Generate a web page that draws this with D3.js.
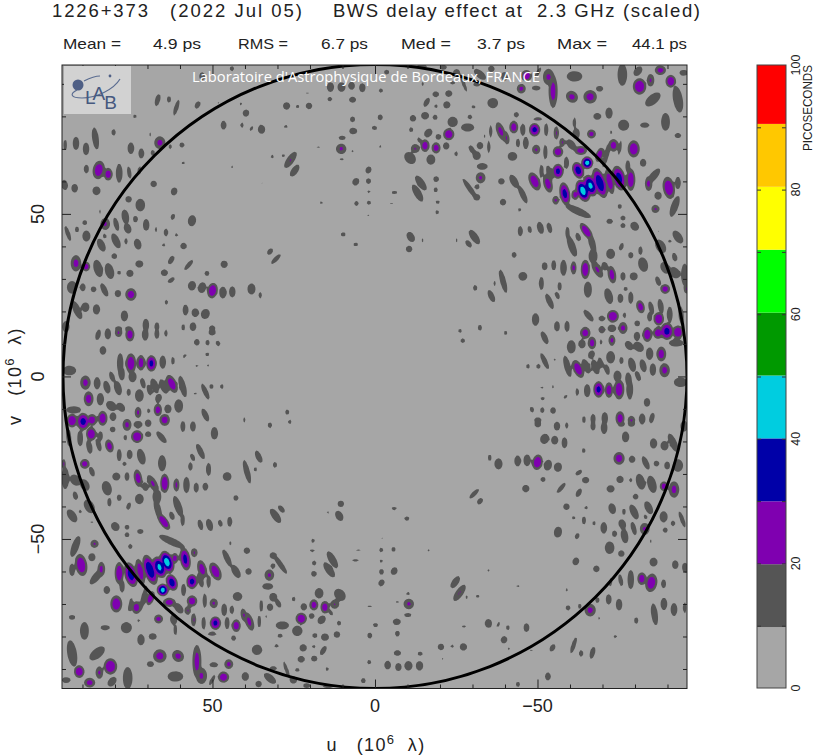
<!DOCTYPE html>
<html><head><meta charset="utf-8">
<script src="https://cdn.jsdelivr.net/npm/d3@7"></script>
<style>html,body{margin:0;padding:0;background:#fff}svg{display:block}text{white-space:pre}</style>
</head><body><svg id="c" width="815" height="756"></svg>
<script>
// Each lobe: [u, v, peak delay (ps), half-extent along axis, half-extent across axis, tilt deg] in 10^6 lambda.
// The map is Hermitian, so each lobe also exists at (-u,-v).
const lobesTopEdge = [[66.9,85,15,1.7,.7,15],[63.4,85.2,15,.9,.6,0],[61.1,82.7,15,2.3,.6,18],[54.6,83.5,15,1.1,.7,30],[73.9,80,15,.5,.5,0],[46.6,77.3,15,1.2,.8,0],[39.7,81,15,1,.9,20],[40.9,77.3,15,.7,.5,0],[41.2,83.8,15,.4,.4,0],[44,94.7,15,.7,.6,0],[38,76.3,15,.8,.4,30],[35.3,76.3,15,1,.4,0],[48.1,84.3,15,.3,.4,0],[53.2,92.3,15,1.1,.8,0]];
const lobesUpperLeft = [[86,73.2,15,3,.9,-8],[80.4,75.1,15,.9,.6,0],[92,71.7,15,1.8,.9,0],[88.9,70,15,1.7,.9,0],[95.3,71.2,15,1.5,.5,0],[75.1,70.2,15,1.6,.9,0],[71.9,68.6,15,1.4,.8,0],[66.2,71.9,22,1.7,1.5,0],[68.4,68.8,15,.8,.6,0],[63,70.7,15,.7,.5,0],[59.4,71.2,15,.7,.7,0],[59,65.7,15,.5,.4,0],[44,64.5,15,.4,.4,0],[35,59.7,15,.4,.3,0],[69.1,74.4,15,.6,.3,0],[88.8,63.8,15,1.2,.7,0],[85,63.5,26,2.5,1.6,10],[82.1,62.2,25,1.7,1.2,0],[78.7,62.5,15,2.6,.9,0],[75.6,62.7,15,1.7,.6,-10],[72.5,63.3,15,1.2,.5,10],[95.5,58.9,15,1.4,.9,-10],[92.4,57.9,15,1.2,.9,0],[85.7,57.1,15,1.2,1.1,0],[68.1,59.2,15,.9,.9,0],[61.8,56.9,15,1.1,.9,20],[75.8,54.5,15,.9,.9,0],[72.2,52.7,15,1.7,1.3,0],[84.7,50.7,15,.6,.3,0],[76.8,49.1,15,2,1,-10],[76.1,45.5,15,1.4,1,-20],[79.6,46.8,15,1.9,.7,-15],[83,46.9,21,1.6,1.3,0],[89.3,47.3,15,.7,.7,0],[91.7,45.2,15,.8,.6,0],[94.5,44,15,2.3,.6,-20],[88.8,43.2,15,1.5,1.1,0],[83.2,43.2,15,.7,.5,-20],[84.2,40.4,15,1.9,1,-25],[79.7,41.7,15,2.2,1,-25],[76.6,41.6,15,.9,.5,0],[73,40.7,15,1.5,1,-15],[70.4,46.6,15,1.6,.9,0],[73.7,48.4,15,.9,.7,0],[67.4,45.2,15,.7,.4,0],[64.3,44.3,15,1.1,.6,0],[61.1,43.5,15,.5,.5,0],[62.2,49.1,15,.9,.6,20],[56.3,47.9,15,1.5,1.1,10],[65,40.4,15,.5,.5,0],[58.9,40.1,15,.9,.9,0],[80.2,37,15,.8,.8,0],[92,34.8,22,2.2,1.4,0],[88.9,33.8,25,1.3,1.1,0],[85.2,33.2,15,2.4,1.2,-15],[81.7,32.4,15,2.2,1.2,-15],[78.7,31.9,15,.6,.5,0],[75.4,31.7,15,1,1,0],[72.5,34.6,15,1,1.1,0],[62.7,35.8,15,1.3,.7,30],[57.3,34.3,15,1.8,.6,40],[46.4,34.5,15,1,1,0],[64.8,31.9,15,.9,1,0],[62.7,29.6,15,1.1,.6,55],[51.7,31.7,15,.7,.7,0],[93.2,27.4,15,1.7,1.4,0],[89.9,27.4,15,1.1,.8,0],[86.6,26.8,15,.8,.8,0],[83.3,26.6,15,2,.8,-25],[79.1,25.5,15,1,.9,0],[75.1,25.2,24,1.7,1.5,0],[56.3,27.9,15,1.3,1.1,10],[53.2,27.3,15,1.5,1.1,15],[50,26.4,28,2.1,1.4,10],[46.8,25.8,15,1.6,1,0],[43.9,26,15,1.5,.9,0],[38,26.9,15,1.5,1.1,0],[35.3,25,15,.9,.5,0],[91.7,20.4,15,2.7,1,-25],[89.1,21.3,15,1.3,1.1,0],[85.7,20.6,15,1.4,1,0],[77.1,18.6,15,1.5,1,0],[58.3,20.4,15,1.5,.8,0],[55.3,19.6,15,1.2,1,0],[52.2,19.2,15,1.4,1.2,20],[64.2,22.8,15,.7,.5,0],[95.1,15.3,15,1.5,1,0],[70.5,15.8,15,1.7,.9,0],[67.1,15.3,15,1.2,.7,0],[59,15.1,15,.9,.5,0],[56,15.3,15,1.2,.9,0],[50.1,14.8,15,.8,.9,0],[78.9,14.7,15,.7,1,0],[75.8,14.7,15,.7,1,0]];
const lobesMiddleLeft = [[85.2,12.8,15,1.5,.7,15],[82.2,13.1,15,1.5,.9,0],[78.9,13.5,21,1.2,1,0],[75.4,12.9,25,1.9,1.2,0],[70.7,12.9,15,1.7,.9,0],[67.1,13.1,15,1.4,.7,0],[64.3,13.3,15,1,.5,0],[54.8,10.5,15,.9,.8,0],[51.5,10.4,15,.8,.6,0],[48.3,10.2,15,.8,.6,-20],[50.1,13.5,15,.8,1,0],[83.7,8,15,1.2,.9,0],[51.6,6.8,15,.5,.6,0],[58.6,6.3,15,.7,.4,45],[78.4,4,15,2.8,.9,0],[75.1,4,26,2.7,1.4,0],[72,4.2,25,2.1,1.1,0],[68.8,4,33,2.2,1.4,0],[65.3,4.4,15,1.8,.9,0],[62.2,4.8,15,1.1,.5,0],[54.8,3.2,15,.4,.4,0],[51.4,3.4,15,.4,.4,0],[94,1.8,15,1.3,1.8,0],[80.9,-.1,15,1.5,.7,-20],[78,1,15,2,.9,-5],[74.6,-.1,15,1.5,1.1,0],[89.1,-1.9,22,1.9,1.4,0],[85.5,-2.1,15,1.7,.9,0],[82.5,-3.3,15,1.8,.9,-15],[79.1,-3.6,15,2,1,-15],[75.8,-4.9,15,1,.6,0],[72.5,-5.9,15,1.7,1.2,0],[71.4,-2.1,15,1.5,.7,-15],[69.4,-4.2,15,1.5,.7,-15],[67.8,-2.9,15,2.1,1,-20],[65,-3.1,15,2.1,1,-25],[62.5,-2.3,26,2.6,1.3,-25],[59.2,-3.1,15,3,.9,-15],[52.2,-4.7,15,2.4,.7,-25],[55.3,-5.2,15,.4,.4,0],[50.3,-3.1,15,.7,.6,0],[47.1,-3.1,15,.7,.5,0],[88.1,-6.9,24,2,1.3,0],[84.5,-7,15,1.7,1,0],[81.1,-9.1,15,1.6,1.2,-50],[78.2,-9.5,15,1.4,1,-40],[92.7,-10.3,15,1,2,0],[66.6,-6.7,15,1.2,.9,20],[63.7,-10,15,1.2,1,0],[60.4,-9.1,15,1.8,1.2,0],[72.9,-11.1,22,1.5,.9,0],[69.6,-10.6,21,.7,.4,0],[66.8,-10.3,24,1.7,1.1,0],[52.2,-11.9,15,1.9,.8,-25],[40.2,-13.4,15,.7,.4,0],[93.2,-13.6,28,1.8,1.5,0],[89.8,-13.9,33,2.3,1.8,0],[87.1,-13.4,25,1.6,1.4,0],[83.8,-12.9,26,2,1.3,0],[80.6,-12.4,15,1.2,.9,0],[76.3,-14.9,22,1.6,1.2,0],[72.9,-14.8,15,1,1.2,0],[69.8,-14.4,20.5,1,.9,0],[64.7,-13.4,24,1.6,1.4,0],[59.1,-15.4,15,1.5,.7,0],[56,-15.4,15,1.4,.8,0],[80.7,-16.3,15,.8,.8,0],[94.2,-18.8,15,2.5,.7,-5],[90.7,-19,15,2.2,.8,0],[87.3,-17.7,28,1.8,1.4,0],[87.9,-21.6,15,2,.8,-10],[84.5,-18.3,15,1.3,.7,0],[76.8,-18.8,15,.8,.5,0],[73.2,-18.5,28,1.7,1.6,0],[69.8,-17.8,15,.8,.9,0],[65.7,-18.7,15,2,.8,-40],[49.4,-17.5,15,1.7,1,0],[85,-21.1,15,1.8,.7,-15],[81.7,-21.4,24,1.8,1.1,-15],[78.7,-24.2,15,1.7,.7,0],[75.5,-24,15,1.3,.8,0],[71.9,-24.7,15,2.2,1.1,-15],[56.1,-24.9,15,1.1,.6,-25],[53.7,-23.1,15,2.3,.8,-25],[65.5,-26.7,15,2.2,1.1,0],[77.1,-26.9,15,.6,.6,0],[95.8,-26.9,22,1.3,.6,0],[89.3,-26.9,24,1.3,1.3,0],[87.1,-29.3,15,1.4,.7,-20],[56.8,-27.7,15,1.2,.6,0],[51.2,-28.6,15,1.8,.7,0],[35.8,-24.7,15,1.8,.8,-25],[39.4,-29.3,15,3.3,.8,-15],[36.8,-28.6,15,.7,.4,0],[45.5,-30.8,15,1.2,1.2,0],[95.3,-31.3,15,3,1,0],[92.2,-31.9,15,1.7,1.3,-45],[89.3,-33.4,15,1.7,1.2,-30],[79.6,-30.8,15,1.1,1.1,0],[76.3,-30.8,15,1.2,.7,0],[72.9,-31.3,24,2.4,1.1,-10],[70.7,-33.9,15,1.2,.9,-15],[68.4,-32.9,21,2.5,1.1,-30],[64.7,-32.9,28,2.6,1.2,0],[61.1,-33.4,22,1.8,.8,0],[58,-33.4,15,2.2,.9,0],[55,-34.2,15,1.4,.7,0],[52.2,-33.9,15,1.1,.8,0],[82.5,-34.4,15,2,1.3,-15],[78.7,-37.3,15,.9,.7,0],[92.2,-36.7,15,1.2,.7,-15],[67.1,-37,15,2,1.2,0],[72.5,-37.7,15,1.4,1.2,0],[42.8,-37.4,15,.8,.7,0],[81.7,-38.7,15,1.2,.6,0],[87.9,-40,15,2,1.3,-30],[75.8,-39.9,15,1.1,.6,20],[60.6,-40,15,3,1,-20],[66.8,-41,15,3,.9,-15],[93.2,-42.9,15,2,1.1,-35],[90.7,-41.6,15,.5,.5,0],[65,-44.7,28,2.6,1.1,-35],[62.5,-42.9,15,1.2,.7,-20],[59.2,-44.2,15,1.7,.6,0],[79.9,-46.2,15,1.3,1.1,-40],[76.3,-46.4,15,.7,.7,0],[53.7,-45.7,15,1.5,.7,-15],[50.9,-45.7,15,1.7,.9,-15],[47.6,-45.2,15,1,.6,-15],[44.7,-44.7,15,1.4,.7,0],[87.1,-44.9,15,.3,.5,0]];
const lobesLowerLeft = [[72.2,-47.7,15,.7,.9,0],[76.3,-48.7,15,.7,.7,0],[92.2,-52.3,15,3,1,20],[86.3,-51.5,21,1.1,1.1,0],[90.4,-58,27,3,1.6,-10],[93.2,-59.5,15,1.7,.8,0],[87.1,-55.6,15,1.1,1,0],[84.2,-59.3,22,2,1,0],[85.7,-61.6,15,2.6,1,40],[78.7,-60.5,27,3,1.2,0],[75.1,-61,34,3.4,1.7,-15],[72.2,-60,26,3.5,1.1,-12],[69.2,-59.5,37,4.2,1.7,-18],[66.3,-58.7,42,3,1.8,-20],[64,-57.1,44,3.1,1.8,-20],[61.6,-55.9,24,1.4,1,0],[58.4,-56.2,33,3.1,1.4,-10],[55.6,-54.2,21,1.2,.9,0],[53.2,-59.3,24,2.5,1.2,-15],[49.1,-60,26,2.6,1.4,-25],[45.5,-55.9,15,2.6,.8,-25],[42.8,-60,15,2,1,-30],[38.9,-60,15,.9,.9,0],[39.4,-53.6,15,.9,.9,0],[62.5,-50.8,15,3.8,1,-65],[75.3,-52.3,15,.7,.6,0],[44.5,-51.3,15,.6,.4,0],[56.3,-63.1,33,2,1.5,0],[62.5,-63.4,35,2.3,1.5,-20],[65.3,-65.7,44,1.7,1.6,0],[58.9,-65.7,15,1.7,.7,0],[53.7,-62.6,15,2.1,.8,-15],[51.2,-63.1,15,1.8,.6,0],[82.5,-65.7,15,1.1,.9,0],[77.8,-64.6,15,1.7,.7,0],[79.6,-70,27,2.3,1.6,0],[75.3,-70.3,15,2,.5,10],[73.4,-71.1,24,1.7,1.3,0],[69.1,-68.2,26,2,1,20],[63.3,-69.5,24,1.2,1.7,0],[71.2,-68.2,15,3.5,.7,15],[60.4,-71.3,15,1.7,1,-40],[56.3,-69.1,25,1.5,1.4,0],[49.6,-69.8,21,1.3,1.1,0],[57.6,-72,21,1.2,.8,0],[52.4,-69,15,2,.6,0],[46.4,-71.8,15,1.7,.8,0],[42.3,-67.7,15,1.2,1.3,0],[44,-71.8,15,1.2,.6,0],[40.4,-73.4,21,1.8,.8,-10],[38.7,-75.4,22,2.6,1.1,-20],[35.6,-75.4,15,1.7,.5,0],[66.6,-74.6,23,1.2,1.2,0],[55.8,-74.9,21,1.8,.7,0],[61.9,-74.7,15,1.5,1,0],[72.7,-75.1,15,.5,.4,0],[93.2,-74.1,15,.7,.9,0],[83,-77.3,15,.7,1.3,0],[76.5,-77.3,15,1.5,1.5,0],[89.4,-78.3,15,2.4,1.2,0],[52.7,-75.9,15,1.8,.6,0],[49.1,-75.9,33,1.8,1.5,0],[45.5,-75.9,15,1.7,.7,0],[42.7,-76.7,25,1.7,1.2,0],[50.1,-79.2,21,.5,1.2,0],[43.5,-80.5,20.5,.7,.7,0],[36.3,-84.1,15,1.4,1.4,0],[61.4,-78,15,1.5,.5,0],[72,-81,15,1.5,1,0],[68.4,-80,15,.9,1.1,0],[54.8,-87.7,23,4.5,1.2,0],[93.2,-85.2,15,3.6,1.3,-10],[85.5,-85.2,15,2.5,1.3,50],[66.2,-86,23,1.8,1.8,0],[60.6,-86,22,1.7,1.5,-45],[69.1,-88.5,15,.8,1,0],[81.4,-89.2,28,2.2,1.8,0],[91,-90.8,27,1.7,1.4,0],[84.8,-91.1,21,1.7,1,0],[87.8,-94.2,23,1.3,1.5,0],[95,-93.4,15,.8,1.2,0],[76.1,-92.8,15,3,1.3,0],[80.9,-93.9,15,1.5,1,40],[61.4,-92.3,15,1.4,2.1,0],[49.6,-88.7,15,.7,1.2,0],[45,-88.5,22,1.3,1.2,0],[53.4,-92.1,21,2.2,1.5,0],[46.6,-92.5,26,1.5,1.5,0],[50.1,-93.4,15,1.7,.5,30],[39.9,-92.3,15,1.2,1,0],[35.8,-94.6,15,.9,.9,0]];
const lobesCentreTop = [[13.7,89,15,1.3,1,0],[10.3,89,15,1.3,1.1,0],[7.2,89.4,15,1.1,.9,0],[3.9,88.8,15,1.2,.9,0],[13.9,85.3,15,.6,.7,0],[6.9,85.1,15,.8,1,0],[27.2,83.2,15,1,1,0],[23.8,83,15,.5,.5,0],[20.3,83.2,15,.9,.9,0],[20.8,87,15,.3,.4,0],[6.9,79.1,15,.8,.7,0],[34.9,76,15,1.2,1,0],[27.4,76.9,15,.4,.6,0],[6.7,75.5,15,.9,1.1,0],[.2,76.5,15,.6,.7,0],[10.1,73.4,15,.6,1,0],[10.4,70,21,1.4,1.4,0],[6.9,69.3,15,.4,.4,0],[10.2,66.8,15,.4,.6,0],[17.4,70.4,15,.2,.6,0],[31.6,67.6,15,.5,.5,0],[28.2,67.9,15,.5,.4,0],[26,66.6,20.3,2.6,1,35],[24.7,63.3,15,1.9,.9,35],[2,63.5,15,1,.8,30],[5.9,59.9,15,1.1,.9,30],[2,60.1,15,.8,.7,0],[1.9,56.8,15,.4,.5,0],[5.7,53.2,15,.7,.6,0],[1.9,53.4,15,.6,.6,0],[16.5,53.5,15,.4,.4,0],[34.9,59.7,15,.3,.4,0],[2.1,49.6,15,.2,.4,0],[9.8,43.7,15,.6,.7,0],[5.9,40.6,15,.5,.7,0],[32.3,38.4,15,1,.7,40],[30.5,36.1,15,1.8,.6,45],[27,-11,15,.7,.6,0],[32.3,-15,15,.8,.6,0],[26.2,-14,15,.6,.5,0],[30.8,-27.2,15,.8,.6,0]];
const lobesCentreBottom = [[10.5,-39.2,15,.9,.9,0],[11,-42.9,15,1.5,1,-30],[14.6,-41.9,15,.6,.3,0],[25.1,-41.9,15,.6,.2,0],[28.8,-40.8,15,1.2,.7,-40],[30.6,-42.9,15,2.3,1,-35],[19.1,-50.5,15,.6,.5,0],[19.3,-53.6,15,.4,.7,0],[31.3,-55.1,15,.9,1,0],[29.2,-57.7,15,3.3,.7,-35],[5.1,-53.4,15,.2,.6,0],[6,-56.6,15,.4,.9,0],[13.1,-56.4,15,2.6,1,-30],[14.1,-59.5,15,2.4,1,-35],[18.7,-57.4,15,.7,.6,0],[18.8,-60.7,15,.8,.8,0],[31.4,-58.3,15,.7,.7,0],[32.5,-61.1,21,1.5,1.3,0],[33,-64.6,15,.9,1.5,0],[17.2,-66.7,15,1.4,1.2,0],[10.8,-67.2,15,1.8,1.4,-40],[31.3,-67.9,15,1.2,1.1,0],[29.8,-69.8,15,1.3,.7,-30],[32.3,-71,15,1,.9,0],[35,-70.6,15,1.7,.5,0],[25,-68.5,15,.7,.5,0],[21.9,-70.9,15,1,.9,0],[18.8,-70.3,24,1.5,1.2,0],[15.4,-71,25,1.7,1.2,0],[12.4,-70.1,20.5,1.2,1.2,0],[13.7,-72.6,15,1,.5,-35],[19.5,-73.7,15,.8,.8,0],[22.7,-74.5,27,1.6,1.5,0],[16.4,-74.9,15,1.3,1,40],[33.6,-73.9,15,.5,.3,0],[11.1,-75.9,15,.7,.6,0],[28.5,-76.6,15,1.1,1.8,0],[23.9,-78.3,15,1.4,1.4,0],[29.2,-79.8,15,.6,.7,0],[18.5,-79.7,15,.7,.7,0],[15.4,-80.2,15,1,1.1,0],[11.7,-79.4,15,.9,.9,0],[-.1,-76.4,15,.5,.7,0],[1.6,-79.7,15,.8,.7,0],[30.3,-82.9,15,.5,.6,0],[22.1,-83.5,15,1,1,0],[18.8,-83.1,15,.5,.5,0],[15.9,-84.3,15,1.4,.7,30],[22.7,-87,15,.9,1,0],[18.7,-86.8,15,.8,.9,0],[14.7,-90,15,.6,.4,0],[1.8,-87.9,15,.6,.6,0],[23.9,-90.3,15,.5,.7,0],[35,-84.1,15,.7,.3,0],[31.3,-89.8,15,.6,1,0],[32.3,-92.9,15,2,1,-50],[27.2,-90.3,15,2.6,.5,-20],[25.1,-93.4,15,1,1,0],[21,-95.1,15,.7,1,0],[14.4,-95.4,15,.5,1.5,0],[3.6,-93.6,15,.7,.7,0],[1.6,-70.8,15,.3,.7,0]];

const levelEdges = [10,20,30,40,50,60,70,80,90];
const levelColours = ["#a6a6a6","#555555","#7f00b0","#0000a8","#00cde0","#009900","#00ff00","#ffff00","#ffc800","#ff0000"];
const barTicks = [0,20,40,60,80,100];
const statLabels = ["Mean =","RMS =","Med =","Max ="];
const statValues = ["4.9 ps","6.7 ps","3.7 ps","44.1 ps"];
const axisMajor = [50,0,-50];
const axisMinor = [90,80,70,60,40,30,20,10,-10,-20,-30,-40,-60,-70,-80,-90];
const titleParts = ["1226+373","(2022 Jul 05)","BWS delay effect at","2.3 GHz (scaled)"];
const credit = "Laboratoire d'Astrophysique de Bordeaux, FRANCE";
const extentU = [96.3,-96], extentV = [95.8,-96], coverageRadius = 96;

const svg = d3.select("#c");
const ink = "#222";
const font = "'Liberation Sans',sans-serif";
const x = d3.scaleLinear(extentU,[62,687]);
const y = d3.scaleLinear(extentV,[65,688.5]);
const bar = d3.scaleLinear([0,100],[688,65]);
const barFill = d3.scaleLinear([0,100],[690,61]);
const colour = d3.scaleThreshold(levelEdges,levelColours);

// value field
const nx = 313, ny = 312, spread = 1.15;
const grid = new Float64Array(nx*ny);
const uAt = d3.scaleLinear([0,nx-1],extentU), vAt = d3.scaleLinear([0,ny-1],extentV);
function paint(u0,v0,peak,a0,b0,t){
  const a = a0*spread, b = b0*spread;
  const th = t*Math.PI/180, s = Math.sin(th), c = Math.cos(th), k = Math.log(peak/10);
  const R = Math.max(a,b)*1.6;
  const i0 = Math.max(0,Math.floor(uAt.invert(u0+R))), i1 = Math.min(nx-1,Math.ceil(uAt.invert(u0-R)));
  const j0 = Math.max(0,Math.floor(vAt.invert(v0+R))), j1 = Math.min(ny-1,Math.ceil(vAt.invert(v0-R)));
  for(let j=j0;j<=j1;j++) for(let i=i0;i<=i1;i++){
    const dx = u0-uAt(i), dy = vAt(j)-v0;
    const al = (dx*s+dy*c)/a, ac = (dx*c-dy*s)/b;
    const val = peak*Math.exp(-k*Math.pow(al*al+ac*ac,1.5));
    if(val>grid[j*nx+i]) grid[j*nx+i]=val;
  }
}
[lobesTopEdge,lobesUpperLeft,lobesMiddleLeft,lobesLowerLeft,lobesCentreTop,lobesCentreBottom].forEach(set=>set.forEach(([u,v,p,a,b,t])=>{
  paint(u,v,p,a,b,t); paint(-u,-v,p,a,b,t);
}));

const L=x(extentU[0]),R=x(extentU[1]),T=y(extentV[0]),B=y(extentV[1]);
svg.append("defs").append("clipPath").attr("id","plot").append("rect").attr("x",L).attr("y",T).attr("width",R-L).attr("height",B-T);

const plot = svg.append("g").attr("clip-path","url(#plot)");
plot.append("rect").attr("x",L).attr("y",T).attr("width",R-L).attr("height",B-T).attr("fill",levelColours[0]);
const thresholds = levelEdges.filter(e=>e<=40);
const contours = d3.contours().size([nx,ny]).smooth(true).thresholds(thresholds)(grid);
const path = d3.geoPath(d3.geoTransform({point(px,py){ this.stream.point(x(uAt(px-.5)),y(vAt(py-.5))); }}));
plot.selectAll("path.c").data(contours).join("path").attr("class","c").attr("d",path).attr("fill",d=>colour(d.value));

// coverage circle
plot.append("circle").attr("cx",x(0)).attr("cy",y(0)).attr("r",x(0)-x(coverageRadius)).attr("fill","none").attr("stroke","#000").attr("stroke-width",3);

// ticks on all four sides
function side(make,scale,transform){
  [[axisMajor,9],[axisMinor,4]].forEach(([vals,size])=>{
    svg.append("g").attr("transform",transform)
      .call(make(scale).tickValues(vals).tickSize(size).tickFormat("").tickSizeOuter(0))
      .call(a=>a.select(".domain").remove())
      .selectAll("line").attr("stroke",ink);
  });
}
side(d3.axisBottom,x,`translate(0,${T})`);
side(d3.axisTop,x,`translate(0,${B})`);
side(d3.axisRight,y,`translate(${L},0)`);
side(d3.axisLeft,y,`translate(${R},0)`);
svg.append("rect").attr("x",L).attr("y",T).attr("width",R-L).attr("height",B-T).attr("fill","none").attr("stroke",ink).attr("stroke-width",1);

// tick labels
const fmt = d3.format("d");
svg.append("g").selectAll("text").data(axisMajor).join("text").attr("x",d=>x(d)).attr("y",712).attr("text-anchor","middle").attr("font-family",font).attr("font-size",18).attr("fill",ink).text(fmt);
svg.append("g").selectAll("text").data(axisMajor).join("text").attr("transform",d=>`translate(44,${y(d)}) rotate(-90)`).attr("text-anchor","middle").attr("font-family",font).attr("font-size",18).attr("fill",ink).text(fmt);

function axisLabel(sel,letter){
  sel.attr("font-family",font).attr("font-size",18).attr("fill",ink).attr("text-anchor","middle").attr("letter-spacing",1.3);
  sel.append("tspan").text(letter+"   (10");
  sel.append("tspan").attr("dy",-7).attr("font-size",13).text("6");
  sel.append("tspan").attr("dy",7).text("  λ)");
}
svg.append("text").attr("x",376).attr("y",751).call(axisLabel,"u");
svg.append("text").attr("transform",`translate(21,376) rotate(-90)`).call(axisLabel,"v");

// title and stats
const titleX=[52,170,333,537], titleW=[96,132,189,163];
titleParts.forEach((t,i)=>{
  svg.append("text").attr("x",titleX[i]).attr("y",17).attr("font-family",font).attr("font-size",18.5).attr("fill",ink).attr("textLength",titleW[i]).attr("lengthAdjust","spacing").text(t);
});
const labelX=[63,238,401,557], valueX=[153,321,477,632], valueW=[48,47,48,55], labelW=[58,50,50,50];
statLabels.forEach((t,i)=>{
  svg.append("text").attr("x",labelX[i]).attr("y",49).attr("font-family",font).attr("font-size",14.5).attr("fill",ink).attr("textLength",labelW[i]).attr("lengthAdjust","spacingAndGlyphs").text(t);
  svg.append("text").attr("x",valueX[i]).attr("y",49).attr("font-family",font).attr("font-size",14.5).attr("fill",ink).attr("textLength",valueW[i]).attr("lengthAdjust","spacingAndGlyphs").text(statValues[i]);
});

// logo and credit
svg.append("rect").attr("x",64).attr("y",66).attr("width",67).attr("height",48).attr("fill","#d2d2d2");
const logo = svg.append("g").attr("fill","none").attr("stroke","#5a6c90").attr("stroke-width",1.2);
logo.append("circle").attr("cx",78).attr("cy",85).attr("r",5.5).attr("fill","#4f5f85").attr("stroke","none");
logo.append("path").attr("d","M84 81 C92 77 98 76 100 76 M77 90 C69 94 71 98 82 98 C97 98 114 89 120 79");
logo.append("circle").attr("cx",110).attr("cy",76).attr("r",1.4).attr("fill","#4f5f85").attr("stroke","none");
const lab = svg.append("text").attr("x",85).attr("y",104).attr("font-family",font).attr("font-size",19).attr("fill","#46597f");
lab.append("tspan").text("L");
lab.append("tspan").attr("dx",-3).attr("dy",-4).text("A");
lab.append("tspan").attr("dx",-1).attr("dy",9).text("B");
svg.append("text").attr("x",192).attr("y",82).attr("font-family","'Open Sans',sans-serif").attr("font-size",14.5).attr("fill","#fff").attr("textLength",348).attr("lengthAdjust","spacingAndGlyphs").text(credit);

// colour bar
const barG = svg.append("g");
const bins = d3.range(10).map(i=>[i*10,(i+1)*10,levelColours[i]]);
const clampY = v=>Math.max(65,Math.min(688,barFill(v)));
barG.selectAll("rect").data(bins).join("rect").attr("x",757).attr("width",29).attr("y",d=>clampY(d[1])).attr("height",d=>clampY(d[0])-clampY(d[1])).attr("fill",d=>d[2]);
barG.append("g").attr("transform","translate(757,0)").call(d3.axisRight(bar).tickValues(d3.range(10,100,10)).tickSize(4).tickFormat("").tickSizeOuter(0)).call(a=>a.select(".domain").remove()).selectAll("line").attr("stroke","#333");
barG.append("g").attr("transform","translate(786,0)").call(d3.axisLeft(bar).tickValues(d3.range(10,100,10)).tickSize(4).tickFormat("").tickSizeOuter(0)).call(a=>a.select(".domain").remove()).selectAll("line").attr("stroke","#333");
barG.append("rect").attr("x",757).attr("y",65).attr("width",29).attr("height",623).attr("fill","none").attr("stroke","#444").attr("stroke-width",1);
svg.append("g").selectAll("text").data(barTicks).join("text").attr("transform",d=>`translate(800,${bar(d)}) rotate(-90)`).attr("text-anchor","middle").attr("font-family",font).attr("font-size",12.5).attr("fill",ink).text(fmt);
svg.append("text").attr("transform","translate(812,151) rotate(-90)").attr("font-family",font).attr("font-size",12).attr("fill",ink).attr("textLength",86).attr("lengthAdjust","spacingAndGlyphs").text("PICOSECONDS");
</script></body></html>
